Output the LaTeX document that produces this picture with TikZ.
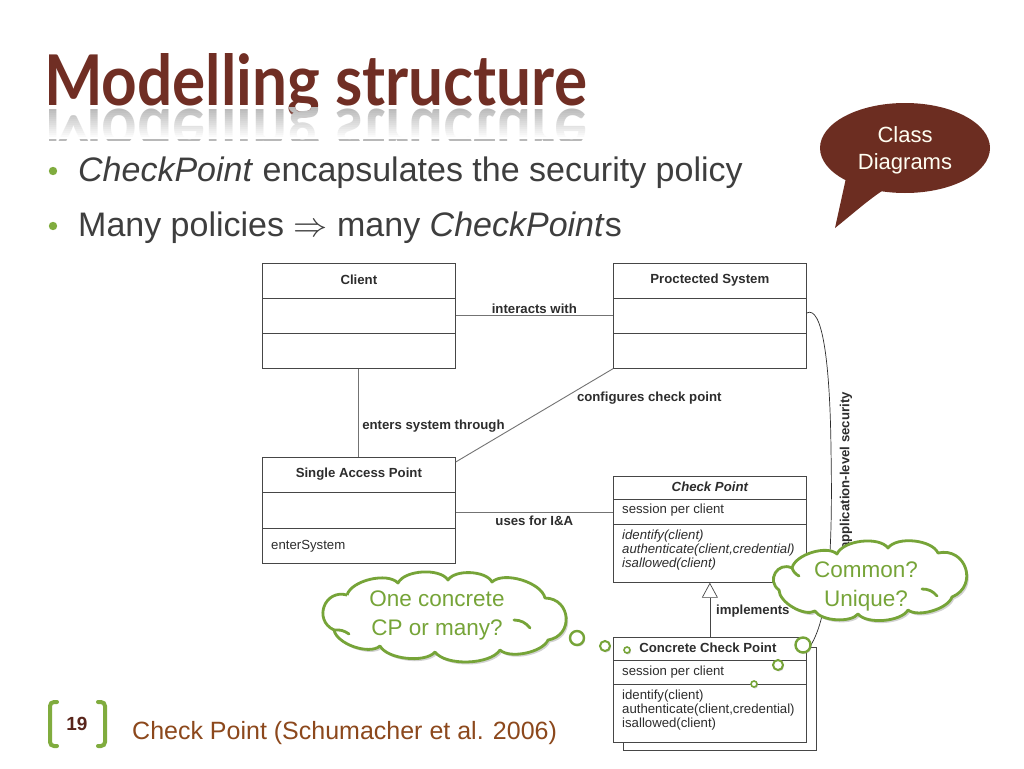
\documentclass[tikz,border=0pt]{standalone}
\usepackage{fontspec}
\setmainfont{Liberation Sans}
\newfontfamily\titlefont{Lato}
\usetikzlibrary{shadows,arrows.meta,calc}
\definecolor{titlebrown}{RGB}{112,46,36}
\definecolor{bodytext}{RGB}{62,62,62}
\definecolor{bulletgreen}{RGB}{128,172,62}
\definecolor{bubblebrown}{RGB}{108,45,33}
\definecolor{cloudgreen}{RGB}{118,164,56}
\definecolor{umlline}{RGB}{70,70,70}
\definecolor{assocline}{RGB}{115,115,115}
\definecolor{umltext}{RGB}{45,45,45}
\definecolor{footbrown}{RGB}{140,72,28}
\definecolor{numbrown}{RGB}{88,36,26}
\tikzset{
  cls/.style={draw=umlline, line width=0.7pt, fill=white, anchor=north west, inner sep=0, minimum width=193, minimum height=105},
  divider/.style={draw=umlline, line width=0.7pt},
  clsname/.style={font=\fontsize{13.2}{14}\selectfont\bfseries, text=umltext, inner sep=0},
  member/.style={font=\fontsize{13.2}{14}\selectfont, text=umltext, inner sep=0, anchor=west},
  assoc/.style={draw=assocline, line width=0.9pt},
  lbl/.style={font=\fontsize{13.2}{14}\selectfont\bfseries, text=umltext, inner sep=1pt},
  gen/.style={draw=umlline, line width=0.7pt, -{Triangle[open, length=15pt, width=16pt, line width=0.7pt]}},
  cloudline/.style={draw=cloudgreen, line width=2.8pt, fill=white, line join=round, drop shadow={opacity=0.35, shadow xshift=2pt, shadow yshift=-2.5pt}},
  curl/.style={draw=cloudgreen, line width=2.8pt, line cap=round},
  tp/.style={bend left=60, looseness=0.75},
  sp/.style={bend left=85, looseness=1.6},
  bp/.style={bend left=55, looseness=0.7},
  cloudtxt/.style={text=cloudgreen, align=center, font=\fontsize{22.5}{29}\selectfont, inner sep=0},
  bubblecirc/.style={circle, draw=cloudgreen, line width=2.4pt, fill=white, inner sep=0, drop shadow={opacity=0.35, shadow xshift=1pt, shadow yshift=-1.5pt}},
  bullettxt/.style={anchor=base west, inner sep=0, font=\fontsize{34}{40}\selectfont, text=bodytext}
}
\begin{document}
\begin{tikzpicture}[x=1pt,y=-1pt]
\useasboundingbox[fill=white] (0,0) rectangle (1024,768);

% title and reflection
\node[anchor=base west, inner sep=0, text=titlebrown] (title) at (44,105)
  {\resizebox{543pt}{52pt}{\titlefont\bfseries Modelling structure}};
\begin{scope}
  \clip (0,107) rectangle (1024,140);
  \node[anchor=base west, inner sep=0, text=black!28] (titlerefl) at (44,109)
    {\scalebox{1}[-1]{\resizebox{543pt}{52pt}{\titlefont\bfseries Modelling structure}}};
  \foreach \i in {0,...,15} {
    \fill[white, opacity=\i/15] (0,{107+2*\i}) rectangle (1024,{109+2*\i});
  }
\end{scope}

% bullets
\fill[bulletgreen] (53,171) circle (4.2);
\fill[bulletgreen] (53,226) circle (4.2);
\node[bullettxt] (b1) at (78,181) {\textit{CheckPoint} encapsulates the security policy};
\node[bullettxt] (b2) at (78,236) {Many policies \scalebox{1.37}{$\Rightarrow$} many \textit{CheckPoint}s};

% speech bubble
\fill[bubblebrown] (905,148) ellipse [x radius=85, y radius=45];
\fill[bubblebrown] (846,178) -- (835,228) .. controls (855,212) and (868,200) .. (885,189) -- cycle;
\node[text=white!95!yellow, align=center, font=\fontsize{22}{27}\selectfont, inner sep=0] (bubtext) at (905,150) {Class\\Diagrams};

% UML classes
\node[cls] (client) at (262,263) {};
\draw[divider] ($(client.north west)+(0,35)$) -- ($(client.north east)+(0,35)$);
\draw[divider] ($(client.north west)+(0,70)$) -- ($(client.north east)+(0,70)$);
\node[clsname] (clientname) at ($(client.north)+(0,17)$) {Client};

\node[cls] (prot) at (613,263) {};
\draw[divider] ($(prot.north west)+(0,35)$) -- ($(prot.north east)+(0,35)$);
\draw[divider] ($(prot.north west)+(0,70)$) -- ($(prot.north east)+(0,70)$);
\node[clsname] (protname) at ($(prot.north)+(0,17)$) {Proctected System};

\node[cls, minimum height=106] (sap) at (262,457) {};
\draw[divider] ($(sap.north west)+(0,35)$) -- ($(sap.north east)+(0,35)$);
\draw[divider] ($(sap.north west)+(0,71)$) -- ($(sap.north east)+(0,71)$);
\node[clsname] (sapname) at ($(sap.north)+(0,17)$) {Single Access Point};
\node[member] (sapop) at ($(sap.north west)+(9,89)$) {enterSystem};

\node[cls, minimum height=106] (cp) at (613,476) {};
\draw[divider] ($(cp.north west)+(0,23)$) -- ($(cp.north east)+(0,23)$);
\draw[divider] ($(cp.north west)+(0,48)$) -- ($(cp.north east)+(0,48)$);
\node[clsname, font=\fontsize{13.2}{14}\selectfont\bfseries\itshape] (cpname) at ($(cp.north)+(0,11)$) {Check Point};
\node[member] (cpattr) at ($(cp.north west)+(9,34)$) {session per client};
\node[member, align=left, font=\fontsize{13.2}{14}\selectfont\itshape, anchor=north west] (cpops) at ($(cp.north west)+(9,54)$) {identify(client)\\authenticate(client,credential)\\isallowed(client)};

\node[cls, minimum height=103] (ccpback) at (623,647) {};
\node[cls] (ccp) at (613,637) {};
\draw[divider] ($(ccp.north west)+(0,23)$) -- ($(ccp.north east)+(0,23)$);
\draw[divider] ($(ccp.north west)+(0,47)$) -- ($(ccp.north east)+(0,47)$);
\node[clsname] (ccpname) at ($(ccp.north)+(-2,11)$) {Concrete Check Point};
\node[member] (ccpattr) at ($(ccp.north west)+(9,35)$) {session per client};
\node[member, align=left, anchor=north west] (ccpops) at ($(ccp.north west)+(9,53)$) {identify(client)\\authenticate(client,credential)\\isallowed(client)};

% connectors
\draw[assoc] (client.east) -- node[lbl, above=1pt] (l1) {interacts with} (prot.west);
\draw[assoc] (client.south) -- node[lbl, pos=0.64, anchor=west, xshift=2pt, yshift=-1pt] (l2) {enters system through} (sap.north);
\draw[assoc] (prot.south west) -- node[lbl, pos=0.2, anchor=west, xshift=-6pt, yshift=-11pt] (l3) {configures check point} ($(sap.north east)+(0,5)$);
\draw[assoc] ($(sap.east)+(0,2)$) -- node[lbl, below=2pt] (l4) {uses for I\&A} ($(sap.east -| cp.west)+(0,2)$);
\draw[gen] (ccp.north) -- node[lbl, pos=0.48, anchor=west, xshift=5pt] (l5) {implements} (cp.south);
\draw[draw=umltext, line width=0.7pt] ($(prot.north east)+(0,50)$) .. controls (822,305) and (830,360) .. (831,450)
  .. controls (833,560) and (828,625) .. ($(ccp.north east)+(0,14)$);
\node[lbl, rotate=90] (l6) at (846,471) {application-level security};

% thought cloud 1
\coordinate (q1) at (443,615);
\path[cloudline] (347,595) to[tp] (398,583) to[tp] (448,580) to[tp] (492,582) to[tp] (545,598)
  to[sp] (548,640) to[bp] (500,650) to[bp] (435,652) to[bp] (380,646) to[tp] (334,630)
  to[sp] (347,595);
\draw[curl] (530,628) to[bend right=25] (514,620);
\draw[curl] (334,630) to[bend left=20] (349,634);
\node[cloudtxt] (q1txt) at (437,615) {One concrete\\CP or many?};
\node[bubblecirc, minimum size=14] (c1) at (577,638) {};
\node[bubblecirc, minimum size=10, line width=2pt] (c2) at (605,646) {};
\node[bubblecirc, minimum size=6, line width=1.6pt] (c3) at (627,650) {};

% thought cloud 2
\coordinate (q2) at (868,584);
\path[cloudline] (792,568) to[tp] (837,554) to[tp] (888,548) to[tp] (938,553)
  to[sp] (952,597) to[bp] (908,610) to[bp] (858,614) to[bp] (815,611) to[tp] (779,590)
  to[sp] (792,568);
\draw[curl] (937,596) to[bend right=25] (922,589);
\draw[curl] (792,568) to[bend right=20] (799,576);
\node[cloudtxt] (q2txt) at (866,586) {Common?\\Unique?};
\node[bubblecirc, minimum size=15] (c4) at (803,645) {};
\node[bubblecirc, minimum size=10, line width=2pt] (c5) at (778,665) {};
\node[bubblecirc, minimum size=6, line width=1.6pt] (c6) at (754,684) {};

% footer
\draw[bulletgreen, line width=4pt, line cap=round, rounded corners=4pt] (57,702) -- (50,702) -- (50,746) -- (57,746);
\draw[bulletgreen, line width=4pt, line cap=round, rounded corners=4pt] (98,702) -- (105,702) -- (105,746) -- (98,746);
\node[font=\fontsize{19}{22}\selectfont\bfseries, text=numbrown, inner sep=0] (num) at (77,724) {19};
\node[anchor=base west, inner sep=0, font=\fontsize{25}{30}\selectfont, text=footbrown] (foot) at (132,739) {Check Point (Schumacher et al. 2006)};
\end{tikzpicture}
\end{document}
